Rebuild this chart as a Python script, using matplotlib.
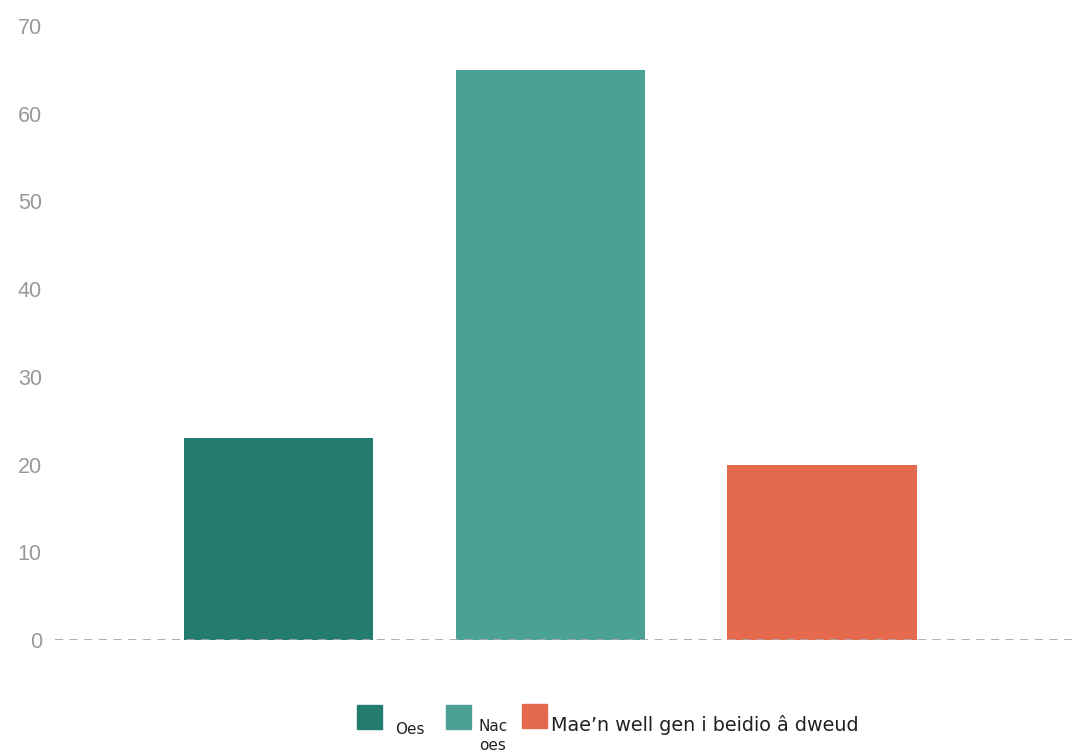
import matplotlib
matplotlib.use("Agg")
import matplotlib.pyplot as plt
from matplotlib.patches import Rectangle

categories = ["Oes", "Nac oes", "Mae’n well gen i beidio â dweud"]
values = [23, 65, 20]
colors = ["#247c71", "#4ba196", "#e4694d"]
yticks = [0, 10, 20, 30, 40, 50, 60, 70]

W, H = 1080, 754
fig = plt.figure(figsize=(W / 100, H / 100), dpi=100)
ax = fig.add_axes([55 / W, 114 / H, (1072 - 55) / W, (640 - 26) / H])

x = list(range(len(categories)))
ax.bar(x, values, width=0.696, color=colors, zorder=2)
ax.axhline(0, color="#a8a8a8", lw=1.3, ls=(0, (4.5, 3.6)), zorder=3)
ax.set_xlim(-0.8226, 2.920)
ax.set_ylim(0, 70)
ax.set_yticks(yticks)
ax.set_yticklabels([str(v) for v in yticks], color="#999999", fontsize=15.5,
                   family="Liberation Sans")
ax.set_xticks([])
ax.tick_params(axis="y", length=0, pad=9.5)
for s in ax.spines.values():
    s.set_visible(False)

# custom legend
def px(xp, yp):
    return xp / W, 1 - yp / H

squares = [(357, 705), (446, 705), (522, 704)]
for (sx, sy), c in zip(squares, colors):
    fx, fy = px(sx, sy + 24)
    fig.patches.append(Rectangle((fx, fy), 25 / W, 24 / H, transform=fig.transFigure,
                                 color=c, figure=fig))

fig.text(*px(395, 734), "Oes", fontsize=11, color="#222222", va="baseline")
fig.text(*px(479, 731), "Nac", fontsize=11, color="#222222", va="baseline")
fig.text(*px(479, 750), "oes", fontsize=11, color="#222222", va="baseline")
fig.text(*px(551, 731), categories[2], fontsize=13.8, color="#222222", va="baseline")

fig.savefig("out.png", dpi=100)
